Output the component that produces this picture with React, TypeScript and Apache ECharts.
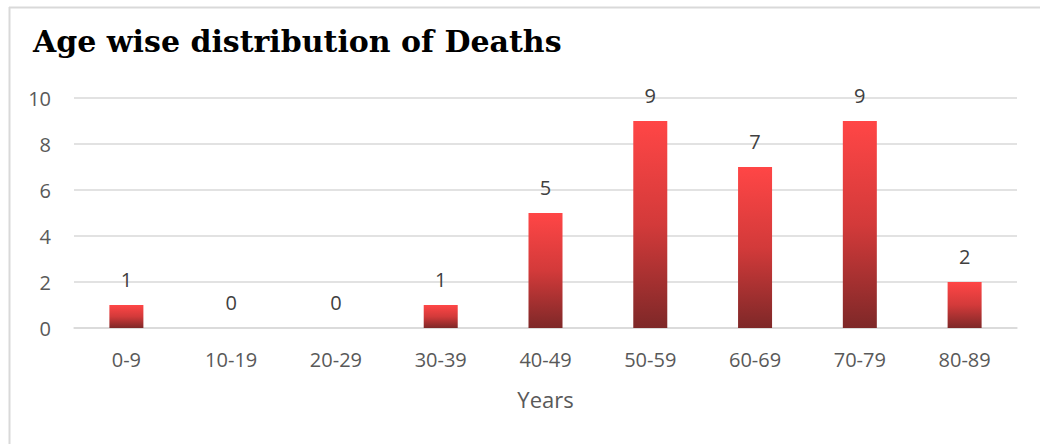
import React, { useEffect, useRef } from "react";
import * as echarts from "echarts";

const categories = ["0-9", "10-19", "20-29", "30-39", "40-49", "50-59", "60-69", "70-79", "80-89"];
const deaths = [1, 0, 0, 1, 5, 9, 7, 9, 2];
const titleText = "Age wise distribution of Deaths";
const xAxisName = "Years";

export default function App() {
  const ref = useRef<HTMLDivElement>(null);
  useEffect(() => {
    if (!ref.current) return;
    const chart = echarts.init(ref.current, null, { renderer: "svg" });
    chart.setOption({
      animation: false,
      backgroundColor: "#ffffff",
      title: {
        text: titleText,
        left: 28,
        top: 21,
        textStyle: {
          fontFamily: "DejaVu Serif",
          fontWeight: "bold",
          fontSize: 30,
          color: "#000000",
        },
      },
      graphic: [
        { type: "line", shape: { x1: 9, y1: 7.5, x2: 1040, y2: 7.5 }, style: { stroke: "#d9d9d9", lineWidth: 2 } },
        { type: "line", shape: { x1: 9.5, y1: 7, x2: 9.5, y2: 444 }, style: { stroke: "#d9d9d9", lineWidth: 2 } },
      ],
      grid: { left: 74, right: 23, top: 98, bottom: 116, containLabel: false },
      xAxis: {
        type: "category",
        data: categories,
        name: xAxisName,
        nameLocation: "middle",
        nameGap: 60,
        nameTextStyle: { fontFamily: "Open Sans", fontSize: 22, color: "#595959" },
        axisLine: { show: true, lineStyle: { color: "#d9d9d9", width: 1.5 } },
        axisTick: { show: false },
        axisLabel: { fontFamily: "Open Sans", fontSize: 20, color: "#595959", margin: 21 },
      },
      yAxis: {
        type: "value",
        min: 0,
        max: 10,
        interval: 2,
        axisLine: { show: false },
        axisTick: { show: false },
        splitLine: { lineStyle: { color: "#d9d9d9", width: 1.5 } },
        axisLabel: { fontFamily: "Open Sans", fontSize: 20, color: "#595959", margin: 23 },
      },
      series: [
        {
          type: "bar",
          data: deaths,
          barWidth: 34,
          itemStyle: {
            color: new echarts.graphic.LinearGradient(0, 0, 0, 1, [
              { offset: 0, color: "#ff4646" },
              { offset: 0.5, color: "#d33a3a" },
              { offset: 1, color: "#7e2828" },
            ]),
          },
          label: {
            show: true,
            position: "top",
            distance: 16,
            fontFamily: "Open Sans",
            fontSize: 20,
            color: "#404040",
          },
        },
      ],
    });
    return () => chart.dispose();
  }, []);
  return (
    <div
      ref={ref}
      style={{ position: "fixed", left: 0, top: 0, width: 1040, height: 444 }}
    />
  );
}
